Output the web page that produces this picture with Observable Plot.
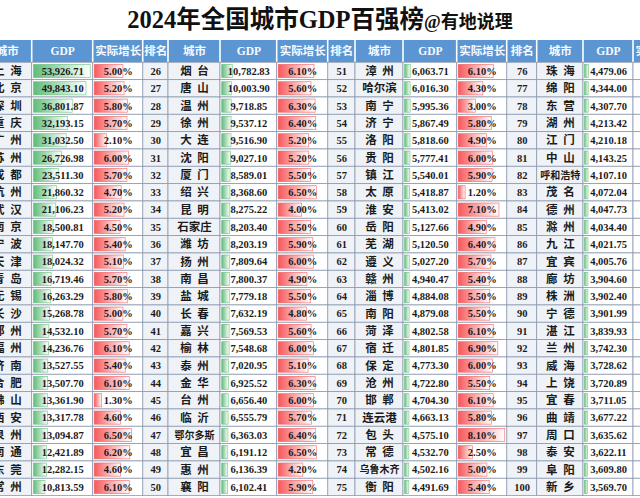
<!DOCTYPE html>
<html>
<head>
<meta charset="utf-8">
<script src="https://cdn.jsdelivr.net/npm/d3@7"></script>
<script src="https://cdn.jsdelivr.net/npm/@observablehq/plot@0.6"></script>
<style>
  html, body { margin: 0; padding: 0; background: #fff; }
  body { width: 640px; height: 498px; overflow: hidden; }
  #title { height: 40px; line-height: 40px; text-align: center; white-space: nowrap;
           font-family: "Liberation Serif", "Noto Sans CJK SC", serif; font-weight: bold; color: #111; }
  #title .main { font-size: 24.5px; }
  #title .sub { font-size: 18px; }
  #chart { width: 640px; height: 458px; overflow: hidden; }
</style>
</head>
<body>
<div id="title"><span class="main">2024年全国城市GDP百强榜</span><span class="sub">@有地说理</span></div>
<div id="chart"></div>
<script>
// ---- data (ranked order) ----
const cities = [
  "上海","北京","深圳","重庆","广州","苏州","成都","杭州","武汉","南京","宁波","天津","青岛","无锡","长沙","郑州","福州","济南","合肥","佛山","西安","泉州","南通","东莞","常州",
  "烟台","唐山","温州","徐州","大连","沈阳","厦门","绍兴","昆明","石家庄","潍坊","扬州","南昌","盐城","长春","嘉兴","榆林","泰州","金华","台州","临沂","鄂尔多斯","宜昌","惠州","襄阳",
  "漳州","哈尔滨","南宁","济宁","洛阳","贵阳","镇江","太原","淮安","岳阳","芜湖","遵义","赣州","淄博","南阳","菏泽","宿迁","保定","沧州","邯郸","连云港","包头","常德","乌鲁木齐","衡阳",
  "珠海","绵阳","东营","湖州","江门","中山","呼和浩特","茂名","德州","滁州","九江","宜宾","廊坊","株洲","宁德","湛江","兰州","威海","上饶","宜春","曲靖","周口","泰安","阜阳","新乡"
];
const gdp = [
  53926.71,49843.10,36801.87,32193.15,31032.50,26726.98,23511.30,21860.32,21106.23,18500.81,18147.70,18024.32,16719.46,16263.29,15268.78,14532.10,14236.76,13527.55,13507.70,13361.90,13317.78,13094.87,12421.89,12282.15,10813.59,
  10782.83,10003.90,9718.85,9537.12,9516.90,9027.10,8589.01,8368.60,8275.22,8203.40,8203.19,7809.64,7800.37,7779.18,7632.19,7569.53,7548.68,7020.95,6925.52,6656.40,6555.79,6363.03,6191.12,6136.39,6102.41,
  6063.71,6016.30,5995.36,5867.49,5818.60,5777.41,5540.01,5418.87,5413.02,5127.66,5120.50,5027.20,4940.47,4884.08,4879.08,4802.58,4801.85,4773.30,4722.80,4704.30,4663.13,4575.10,4532.70,4502.16,4491.69,
  4479.06,4344.00,4307.70,4213.42,4210.18,4143.25,4107.10,4072.04,4047.73,4034.40,4021.75,4005.76,3904.60,3902.40,3901.99,3839.93,3742.30,3728.62,3720.89,3711.05,3677.22,3635.62,3622.11,3609.80,3569.70
];
// growth (%) — the last column block is cut off in the picture, so ranks 76-100 are unknown
const growth = [
  5.00,5.20,5.80,5.70,2.10,6.00,5.70,4.70,5.20,4.50,5.40,5.10,5.70,5.80,5.00,5.70,6.10,5.40,6.10,1.30,4.60,6.50,6.20,4.60,6.10,
  6.10,5.60,6.30,6.40,5.20,5.20,5.50,6.50,4.00,5.50,5.90,6.00,4.90,5.50,4.80,5.60,6.00,5.10,6.30,6.00,5.70,6.40,6.50,4.20,5.90,
  6.10,4.30,3.00,5.80,4.90,6.00,5.90,1.20,7.10,4.90,6.40,5.70,5.40,5.50,5.50,6.10,6.90,6.00,5.50,6.10,5.80,8.10,2.50,5.00,5.40,
  null,null,null,null,null,null,null,null,null,null,null,null,null,null,null,null,null,null,null,null,null,null,null,null,null
];
const headerLabels = ["排名","城市","GDP","实际增长"];

// ---- layout (table grid; the picture is cropped on both sides) ----
const rowsPerBlock = 25;
const colEdges = [-45, -18, 31.7, 92.7, 142.7, 168, 220, 276.7, 327.7, 355, 403, 456.7, 506.7, 536.7, 583, 633, 683];
const visibleFrom = 0, visibleTo = 640;

const rows = cities.map((c, i) => ({
  rank: i + 1, city: c, gdp: gdp[i], growth: growth[i],
  g: Math.floor(i / rowsPerBlock), r: i % rowsPerBlock
}));
const headerCells = [];
for (let g = 0; g < 4; g++) headerLabels.forEach((h, k) => headerCells.push({col: g * 4 + k, label: h}));
const bodyCells = [];
rows.forEach(d => { for (let k = 0; k < 4; k++) bodyCells.push({col: d.g * 4 + k, k, r: d.r}); });

// a cell is drawn with text only if any part of its column is inside the picture
const colVisible = c => colEdges[c + 1] > visibleFrom + 2 && colEdges[c] < visibleTo - 2;

const maxG = d3.max(gdp);
const maxR = d3.max(growth.filter(v => v != null));
const col = (d, k) => d.g * 4 + k;
const serif = "Liberation Serif, Noto Sans CJK SC, serif";
const cjk = "Liberation Serif, Noto Sans CJK SC, sans-serif";
const ink = "#1b1b1b";
const cityLabel = c => c.length === 2 ? c[0] + "\u2002" + c[1] : c;

const defs = () => {
  const g = d3.create("svg:g");
  const df = g.append("defs");
  const mk = (id, c) => {
    const lg = df.append("linearGradient").attr("id", id).attr("x1", 0).attr("x2", 1).attr("y1", 0).attr("y2", 0);
    lg.append("stop").attr("offset", "0%").attr("stop-color", c);
    lg.append("stop").attr("offset", "100%").attr("stop-color", "#ffffff");
  };
  mk("gGreen", "#5fbd78");
  mk("gRed", "#f6595c");
  return g.node();
};

const chart = Plot.plot({
  width: 640,
  height: 458,
  margin: 0,
  style: {background: "#fff", overflow: "hidden"},
  x: {type: "linear", domain: d3.range(17), range: colEdges, axis: null},
  y: {type: "linear", domain: [-1, 0, 25], range: [0, 22.3, 455.6], axis: null},
  marks: [
    defs,
    // header
    Plot.rect(headerCells, {x1: d => d.col, x2: d => d.col + 1, y1: () => -1, y2: () => 0,
      fill: "#5b95d2", insetLeft: 0.8, insetRight: 0.8}),
    Plot.text(headerCells.filter(d => colVisible(d.col)), {x: d => d.col + 0.5, y: () => -0.5, text: "label", fill: "#f6f9ff",
      fontWeight: "bold", fontSize: 11.5, fontFamily: cjk}),
    // body cells
    Plot.rect(bodyCells.filter(d => d.k < 2), {x1: d => d.col, x2: d => d.col + 1, y1: d => d.r, y2: d => d.r + 1,
      fill: "#eff3f8", stroke: "#8d9ab0", strokeWidth: 0.8}),
    Plot.rect(bodyCells.filter(d => d.k >= 2), {x1: d => d.col, x2: d => d.col + 1, y1: d => d.r, y2: d => d.r + 1,
      fill: "#ffffff", stroke: "#8d9ab0", strokeWidth: 0.8}),
    // data bars
    Plot.rect(rows, {x1: d => col(d, 2) + 0.03, x2: d => col(d, 2) + 0.03 + 0.93 * d.gdp / maxG,
      y1: d => d.r + 0.12, y2: d => d.r + 0.88, fill: "url(#gGreen)", stroke: "#5fbd78", strokeWidth: 0.7, strokeOpacity: 0.8}),
    Plot.rect(rows.filter(d => d.growth != null), {x1: d => col(d, 3) + 0.03, x2: d => col(d, 3) + 0.03 + 0.93 * d.growth / maxR,
      y1: d => d.r + 0.12, y2: d => d.r + 0.88, fill: "url(#gRed)", stroke: "#f6595c", strokeWidth: 0.7, strokeOpacity: 0.8}),
    // texts
    Plot.text(rows.filter(d => colVisible(col(d, 0))), {x: d => col(d, 0) + 0.5, y: d => d.r + 0.5, text: d => String(d.rank),
      fill: ink, fontWeight: "bold", fontSize: 10.5, fontFamily: serif}),
    Plot.text(rows.filter(d => colVisible(col(d, 1))), {x: d => col(d, 1) + 0.5, y: d => d.r + 0.5, text: d => cityLabel(d.city),
      fill: ink, fontWeight: "bold", fontSize: d => d.city.length >= 4 ? 10 : 11.5, fontFamily: cjk}),
    Plot.text(rows, {x: d => col(d, 2) + 0.5, y: d => d.r + 0.5, text: d => d3.format(",.2f")(d.gdp),
      fill: ink, fontWeight: "bold", fontSize: 10.5, fontFamily: serif}),
    Plot.text(rows.filter(d => d.growth != null), {x: d => col(d, 3) + 0.5, y: d => d.r + 0.5,
      text: d => d.growth.toFixed(2) + "%", fill: ink, fontWeight: "bold", fontSize: 10.5, fontFamily: serif})
  ]
});
document.getElementById("chart").appendChild(chart);
</script>
</body>
</html>
